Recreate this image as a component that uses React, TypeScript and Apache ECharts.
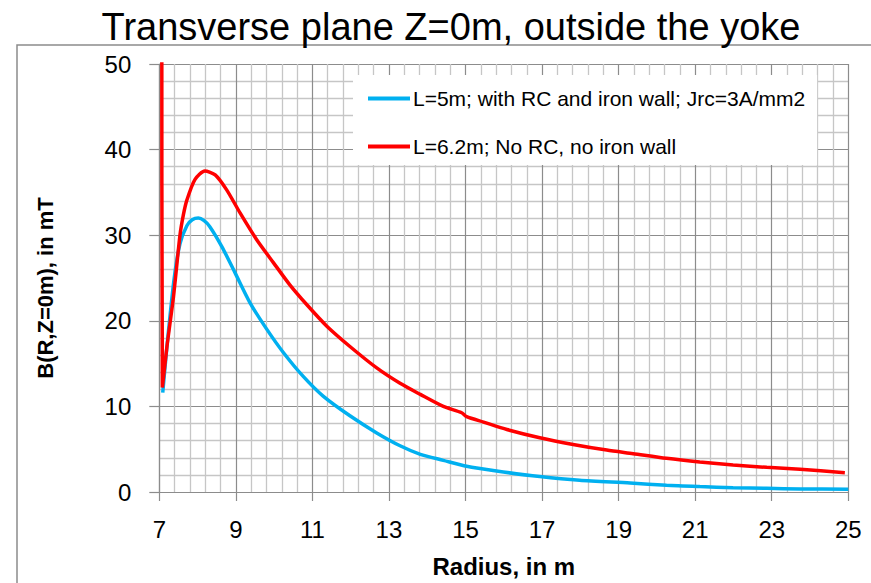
import React, { useEffect, useRef } from "react";
import * as echarts from "echarts";

const titleText = "Transverse plane Z=0m, outside the yoke";
const xAxisTitle = "Radius, in m";
const yAxisTitle = "B(R,Z=0m), in mT";
const seriesNames = ["L=5m; with RC and iron wall; Jrc=3A/mm2", "L=6.2m; No RC, no iron wall"];

const blueR = [7.09, 7.15, 7.235, 7.39, 7.54, 7.72, 7.86, 8.02, 8.17, 8.32, 8.63, 8.98, 9.37, 9.81, 10.24, 10.76, 11.28, 11.98, 12.68, 13.29, 13.82, 14.42, 15.03, 15.81, 16.94, 17.98, 19.3, 20.25, 21.12, 21.99, 22.87, 23.74, 25.0];
const blueB = [11.6, 14.6, 18.6, 25.0, 29.0, 31.1, 31.8, 32.0, 31.7, 31.0, 28.7, 25.6, 22.1, 19.0, 16.3, 13.5, 11.2, 8.9, 6.9, 5.4, 4.4, 3.7, 3.0, 2.45, 1.8, 1.36, 1.05, 0.78, 0.63, 0.51, 0.43, 0.35, 0.33];

const redR = [7.065, 7.08, 7.2, 7.37, 7.54, 7.63, 7.72, 7.93, 8.19, 8.46, 8.76, 9.11, 9.54, 9.98, 10.41, 10.85, 11.37, 11.98, 12.68, 13.29, 13.82, 14.42, 14.9, 15.03, 15.47, 16.08, 16.94, 17.81, 18.69, 19.38, 20.25, 21.12, 21.99, 22.87, 23.74, 24.91];
const redB = [60, 12.2, 17.0, 22.8, 30.0, 32.4, 34.1, 36.5, 37.5, 37.05, 35.3, 32.6, 29.5, 26.8, 24.2, 21.9, 19.4, 17.0, 14.5, 12.7, 11.4, 10.0, 9.26, 8.8, 8.17, 7.3, 6.34, 5.56, 4.9, 4.48, 3.93, 3.5, 3.15, 2.88, 2.65, 2.26];

const FONT = "Liberation Sans";

export default function App() {
  const ref = useRef<HTMLDivElement>(null);
  useEffect(() => {
    if (!ref.current) return;
    const chart = echarts.init(ref.current, null, { renderer: "svg" });
    const blueData = blueR.map((r, i) => [r, blueB[i]]);
    const redData = redR.map((r, i) => [r, redB[i]]);
    chart.setOption({
      animation: false,
      backgroundColor: "#ffffff",
      textStyle: { fontFamily: FONT },
      grid: { left: 159.3, right: 22.7, top: 64, bottom: 90.3, containLabel: false },
      legend: {
        orient: "vertical",
        left: 353,
        top: 75,
        padding: [13, 12, 8, 15],
        backgroundColor: "#ffffff",
        icon: "rect",
        itemWidth: 42,
        itemHeight: 4,
        itemGap: 27,
        textStyle: { fontFamily: FONT, fontSize: 21, color: "#000", lineHeight: 20, padding: [0, 0, 0, -2] },
        data: seriesNames,
      },
      xAxis: {
        type: "value",
        min: 7,
        max: 25,
        interval: 2,
        name: xAxisTitle,
        nameLocation: "middle",
        nameGap: 62,
        nameTextStyle: { fontFamily: FONT, fontWeight: "bold", fontSize: 24, color: "#000" },
        axisLine: { show: true, lineStyle: { color: "#8c8c8c", width: 1.2 } },
        axisTick: { show: true, length: 9, lineStyle: { color: "#8c8c8c", width: 1.2 } },
        axisLabel: { fontFamily: FONT, fontSize: 24, color: "#000", margin: 25 },
        splitLine: { show: true, lineStyle: { color: "#8c8c8c", width: 1.2 } },
        minorTick: { show: false, splitNumber: 5 },
        minorSplitLine: { show: true, lineStyle: { color: "#c6c6c6", width: 1.3 } },
      },
      yAxis: {
        type: "value",
        min: 0,
        max: 50,
        interval: 10,
        axisLine: { show: true, lineStyle: { color: "#8c8c8c", width: 1.2 } },
        axisTick: { show: true, length: 10, lineStyle: { color: "#8c8c8c", width: 1.2 } },
        axisLabel: { fontFamily: FONT, fontSize: 24, color: "#000", margin: 28 },
        splitLine: { show: true, lineStyle: { color: "#8c8c8c", width: 1.2 } },
        minorTick: { show: false, splitNumber: 5 },
        minorSplitLine: { show: true, lineStyle: { color: "#c6c6c6", width: 1.3 } },
      },
      graphic: [
        {
          type: "rect",
          shape: { x: 17, y: 45, width: 900, height: 600 },
          style: { fill: "none", stroke: "#8c8c8c", lineWidth: 1.5 },
          silent: true,
          z: -1,
        },
        {
          type: "text",
          x: 451,
          y: 27,
          style: { text: titleText, font: `38px "${FONT}"`, fill: "#000", textAlign: "center", textVerticalAlign: "middle" },
        },
        {
          type: "text",
          x: 45,
          y: 288,
          rotation: Math.PI / 2,
          style: { text: yAxisTitle, font: `bold 22px "${FONT}"`, fill: "#000", textAlign: "center", textVerticalAlign: "middle" },
        },
      ],
      series: [
        {
          name: seriesNames[0],
          type: "line",
          data: blueData,
          showSymbol: false,
          symbol: "none",
          smooth: 0.25,
          lineStyle: { color: "#00B0F0", width: 3.5 },
          itemStyle: { color: "#00B0F0" },
          clip: true,
        },
        {
          name: seriesNames[1],
          type: "line",
          data: redData,
          showSymbol: false,
          symbol: "none",
          smooth: 0.25,
          lineStyle: { color: "#FF0000", width: 3.5 },
          itemStyle: { color: "#FF0000" },
          clip: true,
        },
      ],
    });
    return () => chart.dispose();
  }, []);
  return <div ref={ref} style={{ position: "fixed", left: 0, top: 0, width: 871, height: 583 }} />;
}
